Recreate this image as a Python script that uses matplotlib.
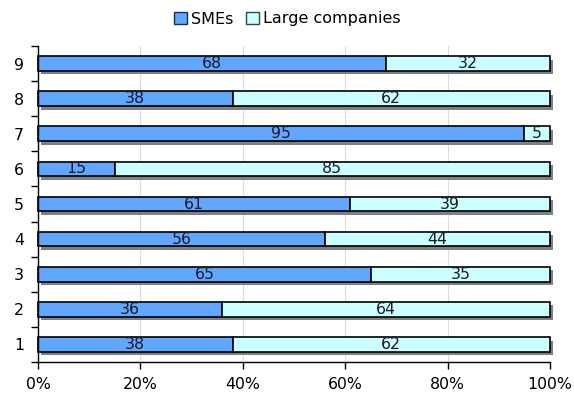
import matplotlib.pyplot as plt
import numpy as np
from matplotlib.patches import Patch
from matplotlib.ticker import FuncFormatter, FixedLocator, NullFormatter

categories = ["1", "2", "3", "4", "5", "6", "7", "8", "9"]
smes = [38, 36, 65, 56, 61, 15, 95, 38, 68]
large = [62, 64, 35, 44, 39, 85, 5, 62, 32]

SME_COLOR = "#61a6ff"
LARGE_COLOR = "#ccffff"
SHADOW = "#808080"

fig = plt.figure(figsize=(5.74, 3.93), dpi=100)
ax = fig.add_axes([38 / 574, 1 - 362 / 393, 512 / 574, 316 / 393])

y = np.arange(1, len(categories) + 1)
h = 0.42
totals = np.array(smes) + np.array(large)

# drop shadow behind each bar
ax.barh(y - 0.1, totals, left=0.5, height=h, color=SHADOW, zorder=1, clip_on=False)
ax.barh(y, smes, height=h, color=SME_COLOR, edgecolor="black", lw=1.2, zorder=2, clip_on=False)
ax.barh(y, large, left=smes, height=h, color=LARGE_COLOR, edgecolor="black", lw=1.2,
        zorder=2, clip_on=False)

for yi, s, l in zip(y, smes, large):
    ax.text(s / 2, yi, str(s), ha="center", va="center", fontsize=11.3, color="#1a1a2a", zorder=3)
    ax.text(s + l / 2, yi, str(l), ha="center", va="center", fontsize=11.3, color="#1a1a2a", zorder=3)

ax.set_xlim(0, 100)
ax.set_ylim(0.5, 9.5)
ax.set_xticks(range(0, 101, 20))
ax.xaxis.set_major_formatter(FuncFormatter(lambda v, pos: f"{v:.0f}%"))
ax.set_yticks(y)
ax.set_yticklabels(categories)
ax.yaxis.set_minor_locator(FixedLocator(np.arange(0.5, 10, 1)))
ax.yaxis.set_minor_formatter(NullFormatter())
ax.tick_params(axis="y", which="major", length=0, pad=10, labelsize=11.3)
ax.tick_params(axis="y", which="minor", length=5, width=1)
ax.tick_params(axis="x", length=5, width=1, labelsize=11.3, pad=6)

ax.grid(True, axis="x", color="#dcdcdc", lw=0.8, zorder=0)
ax.set_axisbelow(True)
for side in ["top", "right"]:
    ax.spines[side].set_visible(False)
ax.spines["left"].set_linewidth(1)
ax.spines["bottom"].set_linewidth(1)

handles = [
    Patch(facecolor=SME_COLOR, edgecolor="#1a3050", label="SMEs"),
    Patch(facecolor=LARGE_COLOR, edgecolor="#2a4a4a", label="Large companies"),
]
fig.legend(handles=handles, loc="center", bbox_to_anchor=(0.5, 1 - 19 / 393), ncol=2,
           frameon=False, fontsize=11.5, handlelength=0.8, handleheight=0.8,
           handletextpad=0.25, columnspacing=0.8)

fig.savefig("out.png", dpi=100)
